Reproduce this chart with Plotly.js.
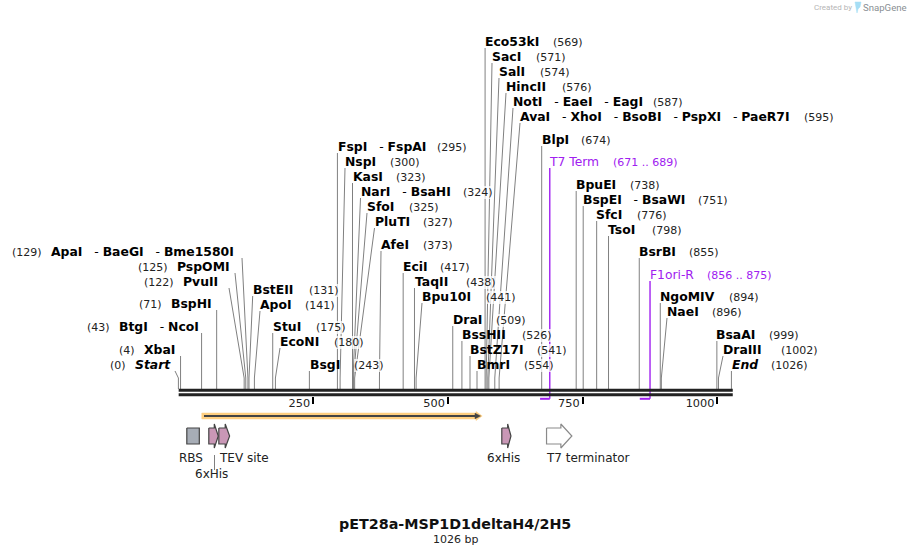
<!DOCTYPE html>
<html><head><meta charset="utf-8">
<script src="https://cdn.plot.ly/plotly-3.0.1.min.js"></script>
<style>html,body{margin:0;padding:0;background:#fff}#c{width:912px;height:555px}</style>
</head><body><div id="c"></div>
<script>
// ---------- data: restriction sites ----------
const siteNames = ["Start","XbaI","BtgI|NcoI","BspHI","PvuII","PspOMI","ApaI|BaeGI|Bme1580I","BstEII","ApoI","StuI","EcoNI","BsgI",
 "FspI|FspAI","NspI","KasI","NarI|BsaHI","SfoI","PluTI","AfeI","EciI","TaqII","Bpu10I","DraI","BssHII","BstZ17I","BmrI",
 "Eco53kI","SacI","SalI","HincII","NotI|EaeI|EagI","AvaI|XhoI|BsoBI|PspXI|PaeR7I","BlpI","BpuEI","BspEI|BsaWI","SfcI","TsoI","BsrBI",
 "NgoMIV","NaeI","BsaAI","DraIII","End"];
const sitePositions = [0,4,43,71,122,125,129,131,141,175,180,243,
 295,300,323,324,325,327,373,417,438,441,509,526,541,554,
 569,571,574,576,587,595,674,738,751,776,798,855,
 894,896,999,1002,1026];
// ---------- layout of site labels (page pixels) ----------
const nameLeft = [135,144,119,171,183,177,51,253,260,273,280,310,
 338,345,353,360.5,367,374.5,381,403,415,422,453,462,470,477,
 485,492,499,506,513,520,542,576,583,596,608,639,
 660,667,716,723,732];
const numberLeft = [110,119,87,139,144,138,12,309,305,316,334,354,
 437,389.5,396,463,409,423,423,440,466,486,496,522,537,524,
 553,536,540,562,653,804,581,630,698,637,652,689,
 729,712,769,781,771];
const labelRow = [365,350,327,304,282,267,252,290,305,327,342,365,
 147,162,177,192,207,222,245,267,282,297,320,335,350,365,
 42,57,72,87,102,117,140,185,200,215,230,252,
 297,312,335,350,365];
const anchorX = [175,181,202,217,229,235,242,252.7,260,273,280,310,
 338,345,353,360.5,367,374.5,381,403,415,422,453,462,470,477,
 485,492,499,506,513,520,542,576,583,596,608,639,
 660,667,716,723,732];
// ---------- data: primers ----------
const primerNames = ["T7 Term","F1ori-R"];
const primerStart = [671,856];
const primerEnd = [689,875];
const primerRow = [162,275];
const primerNumberLeft = [613,707];
// ---------- data: features ----------
const featureNames = ["RBS","6xHis","TEV site","6xHis","T7 terminator"];
const featureStart = [15.6,56.4,75,600,683];
const featureEnd = [38.8,74,95,617,730];
const featureHeadPx = [0,4,4.4,3.3,11];
const featureFill = ["#a7adb6","#c997b6","#c997b6","#c997b6","#ffffff"];
const featureLine = ["#444444","#444444","#444444","#444444","#8a8a8a"];
const featureLabelLeft = [179.2,195.2,218.7,487.2,545.7];
const featureLabelRow = [458,474,458,458,458];
const cdsStart = 43.4, cdsEnd = 563.6;
const totalBp = 1026;
const axisTicks = [250,500,750,1000];

const X0 = 178.4, PX = 0.539;
const bpOf = px => (px - X0) / PX;
const pxOf = bp => X0 + bp * PX;
const GRAY = "#808080", PURPLE = "#a020f0", FONT = "DejaVu Sans";

const traces = [];
function line(x, y, color, width) {
  traces.push({type:"scatter",mode:"lines",x,y,line:{color,width,simplify:false},hoverinfo:"skip",showlegend:false,cliponaxis:false});
}
function poly(x, y, fill, color, width) {
  traces.push({type:"scatter",mode:"lines",x,y,fill:"toself",fillcolor:fill,line:{color,width,simplify:false},hoverinfo:"skip",showlegend:false});
}

// leaders
const lx = [], ly = [];
siteNames.forEach((n,i) => {
  const bp = sitePositions[i], ax = bpOf(anchorX[i]);
  const top = labelRow[i] + 6;
  const straight = Math.abs(anchorX[i] - pxOf(bp)) < 1;
  lx.push(bp, bp, straight ? bp : ax, null);
  ly.push(389, straight ? top : 378, top, null);
});
line(lx, ly, GRAY, 1);

// primers
primerNames.forEach((n,i) => {
  line([primerEnd[i],primerEnd[i]],[primerRow[i]+6,398.8],PURPLE,1.4);
  line([primerStart[i],primerEnd[i]],[398.8,398.8],PURPLE,2);
});

// backbone
line([0.5,totalBp+2.5],[390.3,390.3],"#222222",3);
line([0.5,totalBp+2.5],[394.7,394.7],"#222222",3);

// CDS arrow
const cs = cdsStart, ce = cdsEnd, hb = bpOf(476);
poly([cs,hb,hb,ce,hb,hb,cs,cs],[413,413,411.5,416,420.5,419,419,413],"#ffcf80","#ffcf80",0.5);
line([bpOf(204),bpOf(477)],[416,416],"#444444",2);
poly([bpOf(475),bpOf(480.5),bpOf(475),bpOf(475)],[413.2,416,418.8,413.2],"#444444","#444444",0.5);

// features
featureNames.forEach((n,i) => {
  const s = featureStart[i], e = featureEnd[i], h = featureHeadPx[i];
  if (h === 0) {
    poly([s,e,e,s,s],[428,428,444,444,428],featureFill[i],featureLine[i],1.2);
  } else {
    const f = e - h / PX;
    poly([s,f,f,e,f,f,s,s],[428,428,424,436,448,444,444,428],featureFill[i],featureLine[i],1.2);
  }
});
line([bpOf(214.5),bpOf(214.5)],[455,470],"#808080",1);

// snapgene mark
poly([bpOf(855),bpOf(861),bpOf(860),bpOf(858),bpOf(857),bpOf(855)],[2,2,7,9,13,2],"#a6def5","#a6def5",0.5);

// text
const ann = [];
function text(t, px, py, size, color, extra) {
  ann.push(Object.assign({text:t,xref:"paper",yref:"paper",x:px/912,y:1-py/555,xanchor:"left",yanchor:"middle",
    showarrow:false,borderpad:0,borderwidth:0,font:{family:FONT,size,color}},extra||{}));
}
const SEP = "\u00a0\u00a0\u00a0-\u00a0";
siteNames.forEach((n,i) => {
  const styled = n.split("|").map(s => {
    const b = "<b>"+s+"</b>";
    return (s==="Start"||s==="End") ? "<i>"+b+"</i>" : b;
  }).join(SEP);
  text(styled, nameLeft[i], labelRow[i]-0.7, 12.4, "#000000");
  text("("+sitePositions[i]+")", numberLeft[i], labelRow[i]+0.5, 11, "#222222", {bgcolor:"rgba(255,255,255,0.75)"});
});
primerNames.forEach((n,i) => {
  text(n, pxOf(primerEnd[i])-0.5, primerRow[i], 12.3, PURPLE);
  text("("+primerStart[i]+" .. "+primerEnd[i]+")", primerNumberLeft[i], primerRow[i]+0.5, 11, PURPLE);
});
featureNames.forEach((n,i) => text(n, featureLabelLeft[i], featureLabelRow[i], 12, "#222222"));
ann.push({text:"<b>pET28a-MSP1D1deltaH4/2H5</b>",xref:"paper",yref:"paper",x:455/912,y:1-524/555,xanchor:"center",yanchor:"middle",showarrow:false,borderpad:0,font:{family:FONT,size:14.3,color:"#111"}});
ann.push({text:totalBp+" bp",xref:"paper",yref:"paper",x:455.5/912,y:1-539/555,xanchor:"center",yanchor:"middle",showarrow:false,borderpad:0,font:{family:FONT,size:11,color:"#222"}});
text("Created by",814,7.5,8,"#b5b5b5",{font:{family:"Roboto",size:8,color:"#b5b5b5"}});
text("SnapGene",863,7.5,9.6,"#8a8f94",{font:{family:"Roboto",size:9.6,color:"#8a8f94"}});

Plotly.newPlot("c",traces,{
  width:912,height:555,margin:{l:0,r:0,t:0,b:0},showlegend:false,
  paper_bgcolor:"#fff",plot_bgcolor:"#fff",
  xaxis:{range:[bpOf(0),bpOf(912)],anchor:"free",position:1-396/555,showgrid:false,zeroline:false,showline:false,
    tickmode:"array",tickvals:axisTicks,ticktext:axisTicks.map(String),ticks:"outside",ticklen:7,tickwidth:2,tickcolor:"#000",
    ticklabelposition:"outside left",ticklabelstandoff:-4,ticklabelshift:-2,tickfont:{family:FONT,size:11.3,color:"#222"},layer:"above traces"},
  yaxis:{range:[555,0],visible:false},
  annotations:ann
},{staticPlot:true,displayModeBar:false});
</script></body></html>
